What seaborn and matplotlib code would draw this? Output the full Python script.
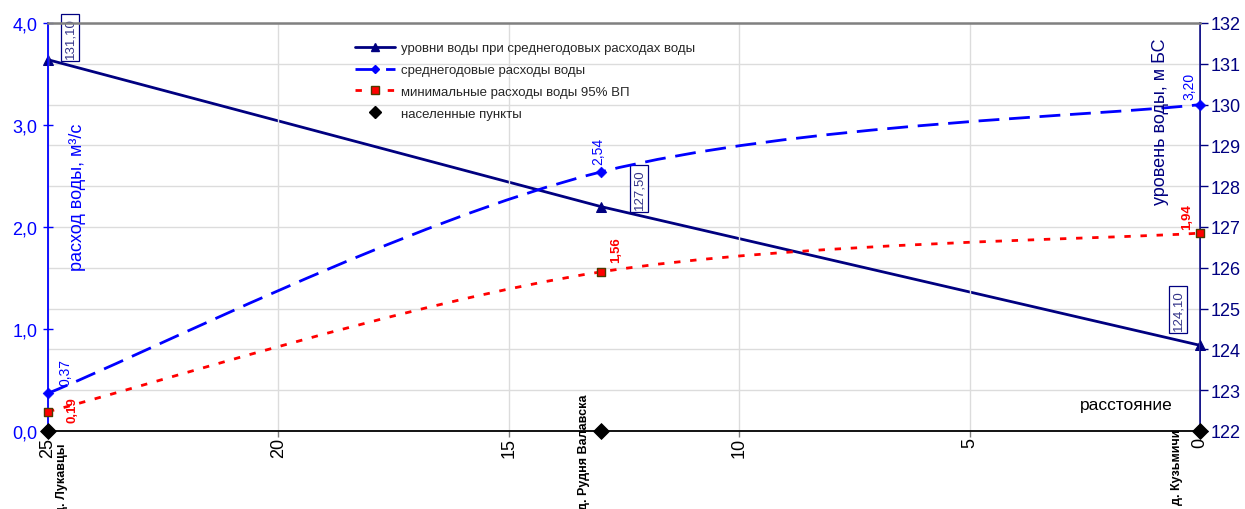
import numpy as np
import matplotlib
matplotlib.use("Agg")
import matplotlib.pyplot as plt
import seaborn as sns
import pandas as pd
from matplotlib.path import Path
from matplotlib.patches import PathPatch
from matplotlib.lines import Line2D

# ---------------- data ----------------
distance = [25, 13, 0]                       # km
villages = ["д. Лукавцы", "д. Рудня Валавска", "д. Кузьмичи"]
level = [131.10, 127.50, 124.10]             # m БС (right axis)
mean_flow = [0.37, 2.54, 3.20]               # m3/s (left axis)
min_flow = [0.19, 1.56, 1.94]                # m3/s (left axis)
village_y = [0, 0, 0]

level_labels = ["131,10", "127,50", "124,10"]
mean_labels = ["0,37", "2,54", "3,20"]
min_labels = ["0,19", "1,56", "1,94"]

x_ticks = [25, 20, 15, 10, 5, 0]
x_ticklabels = ["25", "20", "15", "10", "5", "0"]
left_ticks = [0, 1, 2, 3, 4]
left_ticklabels = ["0,0", "1,0", "2,0", "3,0", "4,0"]
right_ticks = list(range(122, 133))
right_ticklabels = [str(t) for t in right_ticks]

legend_labels = ["уровни воды при среднегодовых расходах воды",
                 "среднегодовые расходы воды",
                 "минимальные расходы воды 95% ВП",
                 "населенные пункты"]

# ---------------- style ----------------
sns.set_theme(style="white")
plt.rcParams["font.family"] = ["Liberation Sans", "DejaVu Sans"]

NAVY = "#000080"
BLUE = "#0000ff"
RED = "#ff0000"
GRID = "#dcdcdc"

fig = plt.figure(figsize=(12.45, 5.10), dpi=100)
ax = fig.add_axes([48 / 1245, 1 - 432 / 510, 1152 / 1245, 408 / 510])
ax2 = ax.twinx()
ax.set_zorder(ax2.get_zorder() + 1)
ax.patch.set_visible(False)
ax2.patch.set_facecolor("white")

ax.set_xlim(25, 0)
ax.set_ylim(0, 4)
ax2.set_ylim(122, 132)

# grids
ax2.set_yticks(right_ticks)
ax2.set_yticklabels(right_ticklabels)
ax2.yaxis.grid(True, color=GRID, lw=1.0)
ax2.xaxis.grid(False)
ax.set_xticks(x_ticks)
ax.set_xticklabels(x_ticklabels, rotation=90)
ax.xaxis.grid(True, color=GRID, lw=1.0)
ax.yaxis.grid(False)
ax.set_yticks(left_ticks)
ax.set_yticklabels(left_ticklabels)

# spines
for s in ["left", "top", "bottom"]:
    ax2.spines[s].set_visible(False)
ax2.spines["right"].set_color(NAVY)
ax2.spines["right"].set_linewidth(1.3)
ax.spines["right"].set_visible(False)
ax.spines["left"].set_color(BLUE)
ax.spines["left"].set_linewidth(1.3)
ax.spines["top"].set_color("#808080")
ax.spines["top"].set_linewidth(1.8)
ax.spines["bottom"].set_color("black")
ax.spines["bottom"].set_linewidth(1.3)

ax.tick_params(axis="y", direction="inout", length=7, width=1, color=BLUE,
               labelcolor=BLUE, labelsize=13, pad=4, left=True)
ax.tick_params(axis="x", direction="out", length=4, width=1, color="#808080",
               labelcolor="black", labelsize=13, pad=0.5, bottom=True)
ax2.tick_params(axis="y", direction="out", length=6, width=1, color=NAVY,
                labelcolor=NAVY, labelsize=13, pad=2, right=True)

ax.set_xlabel("")
ax.set_ylabel("")
ax2.set_ylabel("")

# ---------------- series ----------------
df = pd.DataFrame({"distance": distance, "level": level, "mean": mean_flow,
                   "min": min_flow, "village": village_y})

# levels (straight line, right axis)
sns.lineplot(data=df, x="distance", y="level", ax=ax2, color=NAVY, lw=2.0,
             marker="^", markersize=7, markeredgecolor=NAVY, sort=False,
             clip_on=False, zorder=3)


def smooth_path(xs, ys):
    pts = np.column_stack([xs, ys]).astype(float)
    n = len(pts)
    verts = [pts[0]]
    codes = [Path.MOVETO]
    for i in range(n - 1):
        p0 = pts[i - 1] if i > 0 else pts[i]
        p1 = pts[i]
        p2 = pts[i + 1]
        p3 = pts[i + 2] if i + 2 < n else pts[i + 1]
        verts += [p1 + (p2 - p0) / 6.0, p2 - (p3 - p1) / 6.0, p2]
        codes += [Path.CURVE4] * 3
    return Path(verts, codes)


ax.add_patch(PathPatch(smooth_path(df["distance"], df["mean"]), fill=False,
                       ec=BLUE, lw=2.0, linestyle=(0, (7.5, 3.5)),
                       capstyle="butt", zorder=3))
ax.add_patch(PathPatch(smooth_path(df["distance"], df["min"]), fill=False,
                       ec=RED, lw=2.0, linestyle=(0, (2.3, 3.5)),
                       capstyle="butt", zorder=3))

sns.scatterplot(data=df, x="distance", y="mean", ax=ax, marker="D", s=30,
                color=BLUE, edgecolor=BLUE, clip_on=False, zorder=4)
sns.scatterplot(data=df, x="distance", y="min", ax=ax, marker="s", s=40,
                color=RED, edgecolor="#4d3a00", linewidth=1.0, clip_on=False, zorder=4)
sns.scatterplot(data=df, x="distance", y="village", ax=ax, marker="D", s=65,
                color="black", edgecolor="black", clip_on=False, zorder=5)
ax.set_xlabel("")
ax.set_ylabel("")
ax2.set_xlabel("")
ax2.set_ylabel("")

# ---------------- labels ----------------
level_off = [(22, 22), (38, 18), (-22, 36)]
for xv, yv, t, off in zip(distance, level, level_labels, level_off):
    ax2.annotate(t, (xv, yv), xytext=off, textcoords="offset pixels",
                 rotation=90, ha="center", va="center", fontsize=9.5,
                 color="#333388", annotation_clip=False, zorder=6,
                 bbox=dict(boxstyle="square,pad=0.25", fc="white", ec=NAVY, lw=0.9))

mean_off = [(17, 22), (-3, 21), (-11, 19)]
for xv, yv, t, off in zip(distance, mean_flow, mean_labels, mean_off):
    ax.annotate(t, (xv, yv), xytext=off, textcoords="offset pixels",
                rotation=90, ha="center", va="center", fontsize=10,
                color=BLUE, annotation_clip=False, zorder=6)

min_off = [(24, 2), (15, 23), (-13, 17)]
for xv, yv, t, off in zip(distance, min_flow, min_labels, min_off):
    ax.annotate(t, (xv, yv), xytext=off, textcoords="offset pixels",
                rotation=90, ha="center", va="center", fontsize=9.5,
                fontweight="bold", color=RED, annotation_clip=False, zorder=6)

village_off = [(14, -11), (-17, 37), (-23, 2)]
for xv, yv, t, off in zip(distance, village_y, villages, village_off):
    ax.annotate(t, (xv, yv), xytext=off, textcoords="offset pixels",
                rotation=90, ha="center", va="top", fontsize=9,
                fontweight="bold", color="black", annotation_clip=False, zorder=6)

ax.text(0.026, 0.576, "расход воды, м³/с", transform=ax.transAxes, rotation=90,
        ha="center", va="center", fontsize=13, color=BLUE)
ax.text(0.966, 0.76, "уровень воды, м БС", transform=ax.transAxes, rotation=90,
        ha="center", va="center", fontsize=13, color=NAVY)
ax.text(0.936, 0.066, "расстояние", transform=ax.transAxes,
        ha="center", va="center", fontsize=12.5, color="black")

# ---------------- legend ----------------
handles = [
    Line2D([], [], color=NAVY, lw=2.0, marker="^", markersize=6),
    Line2D([], [], color=BLUE, lw=2.0, linestyle=(0, (7.5, 3.5)), marker="D",
           markersize=4.5),
    Line2D([], [], color=RED, lw=2.0, linestyle=(0, (2.3, 3.5)), marker="s",
           markersize=6, markerfacecolor=RED, markeredgecolor="#4d3a00"),
    Line2D([], [], color="black", lw=0, marker="D", markersize=6),
]
ax.legend(handles, legend_labels, loc="upper left", bbox_to_anchor=(0.2665, 0.953),
          frameon=False, fontsize=9.5, handlelength=3.0, handletextpad=0.45,
          labelspacing=0.72, borderpad=0, borderaxespad=0)

fig.savefig("out.png", dpi=100)
